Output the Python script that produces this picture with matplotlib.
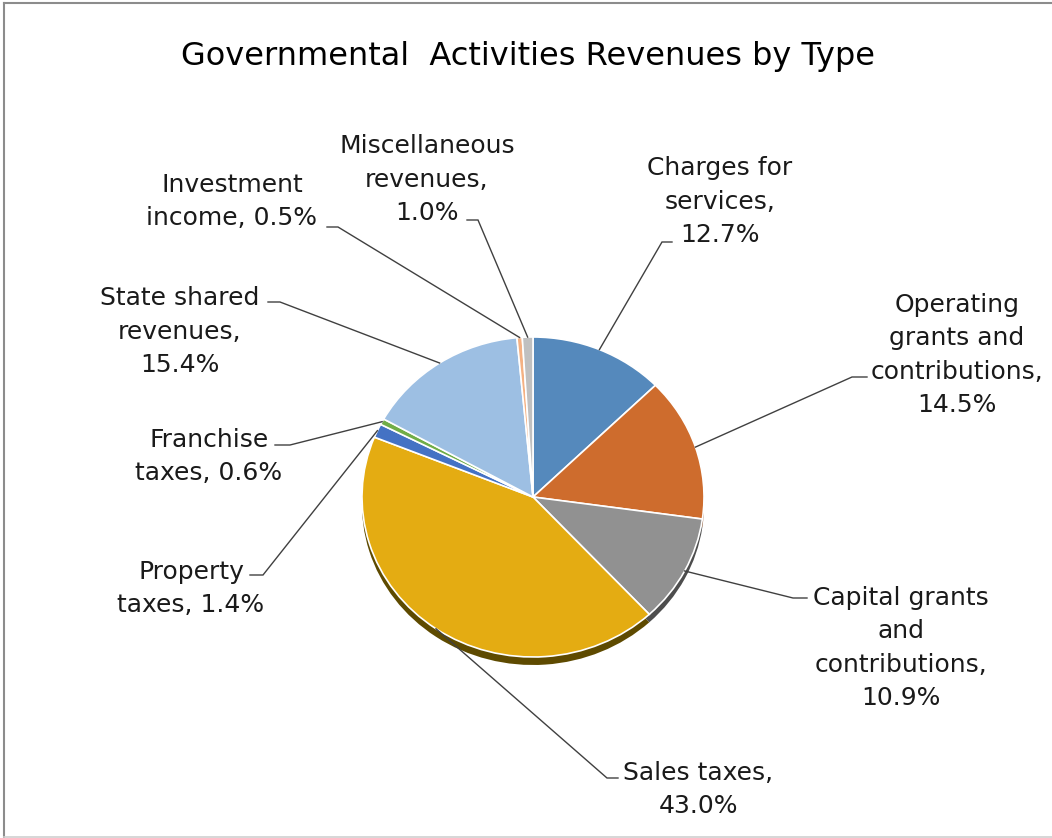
import numpy as np
import matplotlib
matplotlib.use("Agg")
import matplotlib.pyplot as plt


# Revenue shares by type, clockwise from 12 o'clock
categories = ["Charges for\nservices", "Operating\ngrants and\ncontributions",
              "Capital grants\nand\ncontributions", "Sales taxes", "Property\ntaxes",
              "Franchise\ntaxes", "State shared\nrevenues", "Investment\nincome",
              "Miscellaneous\nrevenues"]
shares = [12.7, 14.5, 10.9, 43.0, 1.4, 0.6, 15.4, 0.5, 1.0]
# how each label wraps before the percentage
label_breaks = ["\n", "\n", "\n", "\n", " ", " ", "\n", " ", "\n"]

colors = ["#5589BC", "#CE6C2D", "#919191", "#E4AC12", "#4472C4",
          "#70AD47", "#9DBFE3", "#F4B183", "#C0C0C0"]
side_colors = ["#2E4D6B", "#7A3E19", "#4D4D4D", "#5E4A00", "#263F6B",
               "#3E6027", "#56708A", "#8A6349", "#6B6B6B"]

# Canvas in pixels
W, H = 1052, 838
pie_cx, pie_cy = 533, 497  # pie centre
pie_rx, pie_ry = 171, 160  # slightly flattened pie
depth = 8  # visible thickness of the pie rim

# label layout: centre x, baseline y of the last line, leader tick (start, elbow)
label_pos = [(720, 242), (957, 412), (901, 705), (698, 813), (191, 612),
             (209, 480), (180, 372), (232, 225), (427, 220)]
tick_pos = [((672, 242), (662, 242)), ((867, 377), (852, 377)),
            ((807, 598), (793, 598)), ((618, 778), (607, 778)),
            ((250, 575), (263, 575)), ((275, 445), (290, 445)),
            ((268, 302), (280, 302)), ((327, 227), (338, 227)),
            ((467, 220), (478, 220))]

text_color = "#1a1a1a"
leader_color = "#404040"


def main():
    fig = plt.figure(figsize=(W / 100, H / 100), dpi=100)
    fig.patch.set_facecolor("white")

    # pie axes sized so one data unit = pie_rx px across, pie_ry px down
    lim = 1.25
    aw, ah = 2 * lim * pie_rx, 2 * lim * pie_ry
    pie_ax = fig.add_axes([(pie_cx - aw / 2) / W, (H - pie_cy - ah / 2) / H, aw / W, ah / H])

    # rim first, shifted down, then the top face
    pie_ax.pie(shares, colors=side_colors, startangle=90, counterclock=False,
               center=(0, -depth / pie_ry), wedgeprops=dict(linewidth=0))
    wedges, _ = pie_ax.pie(shares, colors=colors, startangle=90, counterclock=False,
                           wedgeprops=dict(edgecolor="white", linewidth=1.2))
    pie_ax.set_aspect("auto")
    pie_ax.set_xlim(-lim, lim)
    pie_ax.set_ylim(-lim, lim)
    pie_ax.axis("off")

    # overlay in pixel coordinates for title, labels and leaders
    ov = fig.add_axes([0, 0, 1, 1], zorder=5)
    ov.set_xlim(0, W)
    ov.set_ylim(H, 0)
    ov.axis("off")
    ov.patch.set_alpha(0)

    ov.text(528, 65, "Governmental  Activities Revenues by Type", ha="center",
            va="baseline", fontsize=23, color="black", family="DejaVu Sans")

    to_px = pie_ax.transData
    from_px = ov.transData.inverted()
    for w, name, sep, val, (lx, ly), (t0, t1) in zip(wedges, categories, label_breaks,
                                                     shares, label_pos, tick_pos):
        ov.text(lx, ly, f"{name},{sep}{val:.1f}%", ha="center", va="baseline",
                fontsize=18, color=text_color, linespacing=1.5, family="DejaVu Sans")
        mid = np.deg2rad((w.theta1 + w.theta2) / 2)
        ex, ey = from_px.transform(to_px.transform((np.cos(mid), np.sin(mid))))
        ov.plot([t0[0], t1[0], ex], [t0[1], t1[1], ey], color=leader_color,
                lw=1, solid_joinstyle="miter")

    # chart frame
    ov.plot([3.5, W], [3.5, 3.5], color="#8c8c8c", lw=1.5)
    ov.plot([3.5, 3.5], [3.5, H], color="#8c8c8c", lw=1.5)
    ov.plot([3.5, W], [H - 1.5, H - 1.5], color="#d0d0d0", lw=1.2)

    fig.savefig("out.png", dpi=100)


if __name__ == "__main__":
    main()
